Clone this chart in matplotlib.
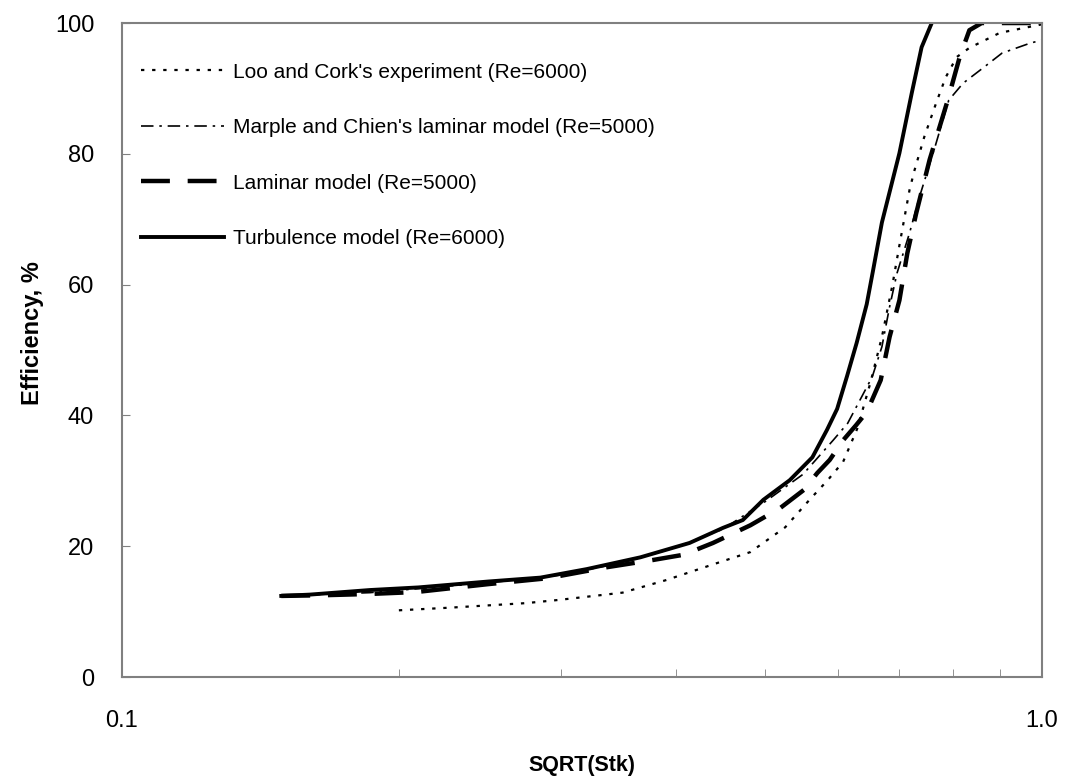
import matplotlib
matplotlib.use("Agg")
import matplotlib.pyplot as plt
from matplotlib.ticker import FixedLocator, NullFormatter

plt.rcParams['font.family'] = ['Liberation Sans', 'DejaVu Sans']

# Loo and Cork's experiment (Re=6000)
loo_x = [0.2, 0.227, 0.275, 0.299, 0.35, 0.39, 0.443, 0.482, 0.526, 0.559, 0.585,
         0.608, 0.63, 0.651, 0.670, 0.688, 0.700, 0.718, 0.727, 0.745, 0.768, 0.786,
         0.808, 0.834, 0.90, 1.0]
loo_y = [10.2, 10.6, 11.3, 11.8, 12.9, 14.8, 17.4, 19.1, 22.9, 27.1, 30.1,
         32.9, 38.0, 45.0, 52.0, 60.0, 66.0, 74.5, 77.5, 82.6, 87.9, 91.7,
         94.8, 96.2, 98.5, 99.8]

# Marple and Chien's laminar model (Re=5000)
marple_x = [0.149, 0.186, 0.25, 0.30, 0.35, 0.40, 0.45, 0.50, 0.55, 0.593, 0.615,
            0.654, 0.670, 0.683, 0.696, 0.718, 0.736, 0.765, 0.792, 0.821, 0.866,
            0.905, 0.97, 1.0]
marple_y = [12.4, 12.9, 14.4, 15.6, 17.5, 19.8, 22.6, 26.8, 31.0, 36.2, 38.8,
            45.9, 50.5, 56.6, 61.8, 67.9, 73.4, 81.0, 88.2, 90.8, 93.3,
            95.4, 96.9, 97.4]

# Laminar model (Re=5000)
lam_x = [0.149, 0.165, 0.186, 0.209, 0.25, 0.29, 0.337, 0.378, 0.408, 0.439, 0.482,
         0.519, 0.551, 0.570, 0.588, 0.608, 0.628, 0.645, 0.668, 0.683, 0.700, 0.714,
         0.730, 0.755, 0.790, 0.814, 0.834, 0.86, 1.0]
lam_y = [12.4, 12.5, 12.7, 13.0, 14.2, 15.1, 16.8, 17.9, 18.7, 20.5, 23.2,
         25.8, 28.6, 31.2, 33.2, 36.2, 38.5, 40.5, 45.4, 52.0, 57.6, 64.8,
         70.9, 79.1, 88.2, 94.8, 98.9, 100, 100]

# Turbulence model (Re=6000)
turb_x = [0.149, 0.16, 0.186, 0.21, 0.25, 0.285, 0.32, 0.366, 0.414, 0.45, 0.473,
          0.498, 0.532, 0.563, 0.584, 0.599, 0.614, 0.629, 0.645, 0.655, 0.67,
          0.70, 0.722, 0.74, 0.759]
turb_y = [12.4, 12.6, 13.3, 13.7, 14.6, 15.2, 16.5, 18.3, 20.5, 22.8, 24.0,
          27.1, 30.1, 33.6, 37.8, 41.0, 46.0, 51.1, 57.0, 62.0, 69.5,
          80.1, 89.3, 96.3, 100]

fig = plt.figure(figsize=(10.66, 7.78), dpi=100)
ax = fig.add_axes([0.1144, 0.1298, 0.863, 0.8406])

ax.plot(loo_x, loo_y, color='black', lw=1.6, linestyle=(0, (1.5, 3.5)),
        label="Loo and Cork's experiment (Re=6000)")
ax.plot(marple_x, marple_y, color='black', lw=1.2, linestyle=(0, (7.5, 3.5, 1.5, 3.5)),
        label="Marple and Chien's laminar model (Re=5000)")
ax.plot(lam_x, lam_y, color='black', lw=3.2, linestyle=(0, (6.5, 4)),
        label="Laminar model (Re=5000)")
ax.plot(turb_x, turb_y, color='black', lw=2.8, linestyle='-',
        label="Turbulence model (Re=6000)")

ax.set_xscale('log')
ax.set_xlim(0.1, 1.0)
ax.set_ylim(0, 100)

ax.xaxis.set_major_locator(FixedLocator([0.1, 1.0]))
ax.set_xticklabels(['0.1', '1.0'])
ax.xaxis.set_minor_locator(FixedLocator([0.2, 0.3, 0.4, 0.5, 0.6, 0.7, 0.8, 0.9]))
ax.xaxis.set_minor_formatter(NullFormatter())
ax.tick_params(axis='x', which='major', length=0, pad=24, labelsize=17)
ax.tick_params(axis='x', which='minor', direction='in', length=6, color='#808080')
ax.set_yticks([0, 20, 40, 60, 80, 100])
ax.tick_params(axis='y', direction='in', length=6, pad=20, labelsize=17, color='#808080')

for side in ['top', 'right', 'bottom', 'left']:
    ax.spines[side].set_color('#808080')
    ax.spines[side].set_linewidth(1.5)

ax.set_xlabel('SQRT(Stk)', fontsize=15.5, fontweight='bold', labelpad=16)
ax.set_ylabel('Efficiency, %', fontsize=17, fontweight='bold')
ax.yaxis.set_label_coords(-0.085, 0.526)

ax.legend(loc='upper left', frameon=False, fontsize=15, handlelength=4.0,
          handletextpad=0.45, labelspacing=1.75, borderaxespad=0.5,
          bbox_to_anchor=(0.0, 0.968))

fig.savefig('out.png', dpi=100)
